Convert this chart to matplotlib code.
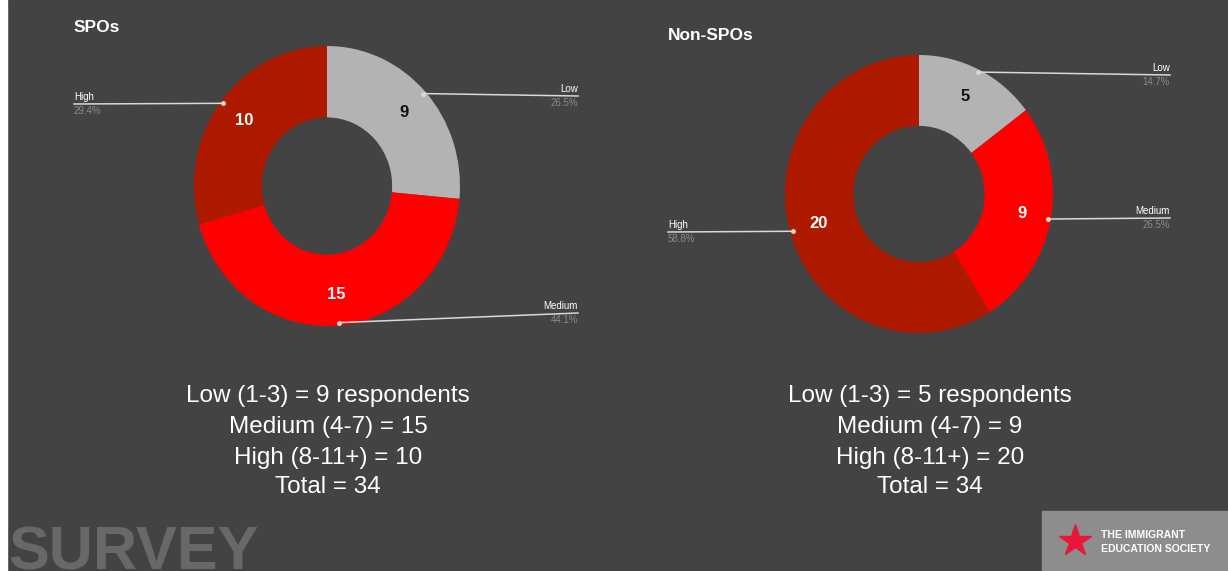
import numpy as np
import matplotlib.pyplot as plt
from matplotlib.patches import Rectangle

plt.rcParams['font.family'] = ['Liberation Sans', 'DejaVu Sans']

W, H = 1228, 571
BG = '#434343'

categories = ['Low', 'Medium', 'High']
spo_counts = [9, 15, 10]
non_spo_counts = [5, 9, 20]
slice_colors = ['#b3b3b3', '#ff0000', '#ad1a00']
number_colors = ['#111111', 'white', 'white']
range_labels = ['Low (1-3)', 'Medium (4-7)', 'High (8-11+)']

fig = plt.figure(figsize=(W / 100, H / 100), dpi=100)
fig.patch.set_facecolor(BG)

# full-figure overlay in pixel units for text and decorations
over = fig.add_axes([0, 0, 1, 1], zorder=5)
over.set_xlim(0, W)
over.set_ylim(H, 0)
over.axis('off')
over.patch.set_alpha(0)

over.add_patch(Rectangle((0, 0), 7, H, color='white', zorder=1))


def donut(counts, center, rx, ry, title, title_xy, callouts, summary_x):
    cx, cy = center
    ax = fig.add_axes([(cx - rx) / W, 1 - (cy + ry) / H, 2 * rx / W, 2 * ry / H])
    ax.pie(counts, colors=slice_colors, startangle=90, counterclock=False,
           radius=1, wedgeprops=dict(width=0.51, linewidth=0))
    ax.set_aspect('auto')
    ax.set_xlim(-1, 1)
    ax.set_ylim(-1, 1)
    ax.axis('off')

    total = sum(counts)
    cum = np.cumsum([0] + counts)
    for i, (name, n) in enumerate(zip(categories, counts)):
        mid = (cum[i] + n / 2) / total * 2 * np.pi
        sx, sy = np.sin(mid), np.cos(mid)
        # count inside the ring
        ax.text(0.78 * sx, 0.78 * sy, str(n), ha='center', va='center',
                fontsize=12, fontweight='bold', color=number_colors[i])
        # leader line to the callout
        lx, ly, side = callouts[name]
        px = cx + 0.98 * sx * rx
        py = cy - 0.98 * sy * ry
        over.plot([px, lx], [py, ly], color='#d9d9d9', lw=1.1, zorder=3)
        over.plot([px], [py], 'o', color='#d9d9d9', ms=2.5, zorder=3)
        ha = 'right' if side == 'right' else 'left'
        tx = lx if side == 'right' else min(lx, px)
        over.text(tx, ly - 2, name, ha=ha, va='bottom', fontsize=7,
                  color='white')
        over.text(tx, ly + 2, f'{n / total * 100:.1f}%', ha=ha, va='top',
                  fontsize=7, color='#8a8a8a')

    over.text(title_xy[0], title_xy[1], title, ha='left', va='center',
              fontsize=12.5, fontweight='bold', color='white')

    lines = [f'{range_labels[0]} = {counts[0]} respondents',
             f'{range_labels[1]} = {counts[1]}',
             f'{range_labels[2]} = {counts[2]}',
             f'Total = {total}']
    for y, s in zip([396, 427, 458, 487], lines):
        over.text(summary_x, y, s, ha='center', va='center', fontsize=17.5,
                  color='white')


donut(spo_counts, (327, 186), 133, 140, 'SPOs', (74, 27),
      {'Low': (578, 96, 'right'), 'Medium': (578, 313, 'right'),
       'High': (74, 104, 'left')}, 328)
donut(non_spo_counts, (919, 194), 134, 139, 'Non-SPOs', (668, 35),
      {'Low': (1170, 75, 'right'), 'Medium': (1170, 218, 'right'),
       'High': (668, 232, 'left')}, 930)

# footer branding, the word runs off the bottom edge
over.text(8, 569, 'SURVEY', ha='left', va='baseline', fontsize=44,
          fontweight='bold', color='#686868', zorder=2)
over.add_patch(Rectangle((1042, 511), W - 1042, H - 511, color='#8d8d8d',
                         zorder=2))
over.plot([1075], [541], marker='*', ms=24, color='#e8173a', zorder=3)
over.text(1101, 535, 'THE IMMIGRANT', ha='left', va='center', fontsize=7.5,
          fontweight='bold', color='white', zorder=3)
over.text(1101, 549, 'EDUCATION SOCIETY', ha='left', va='center',
          fontsize=7.5, fontweight='bold', color='white', zorder=3)

fig.savefig('out.png', dpi=100, facecolor=BG)
